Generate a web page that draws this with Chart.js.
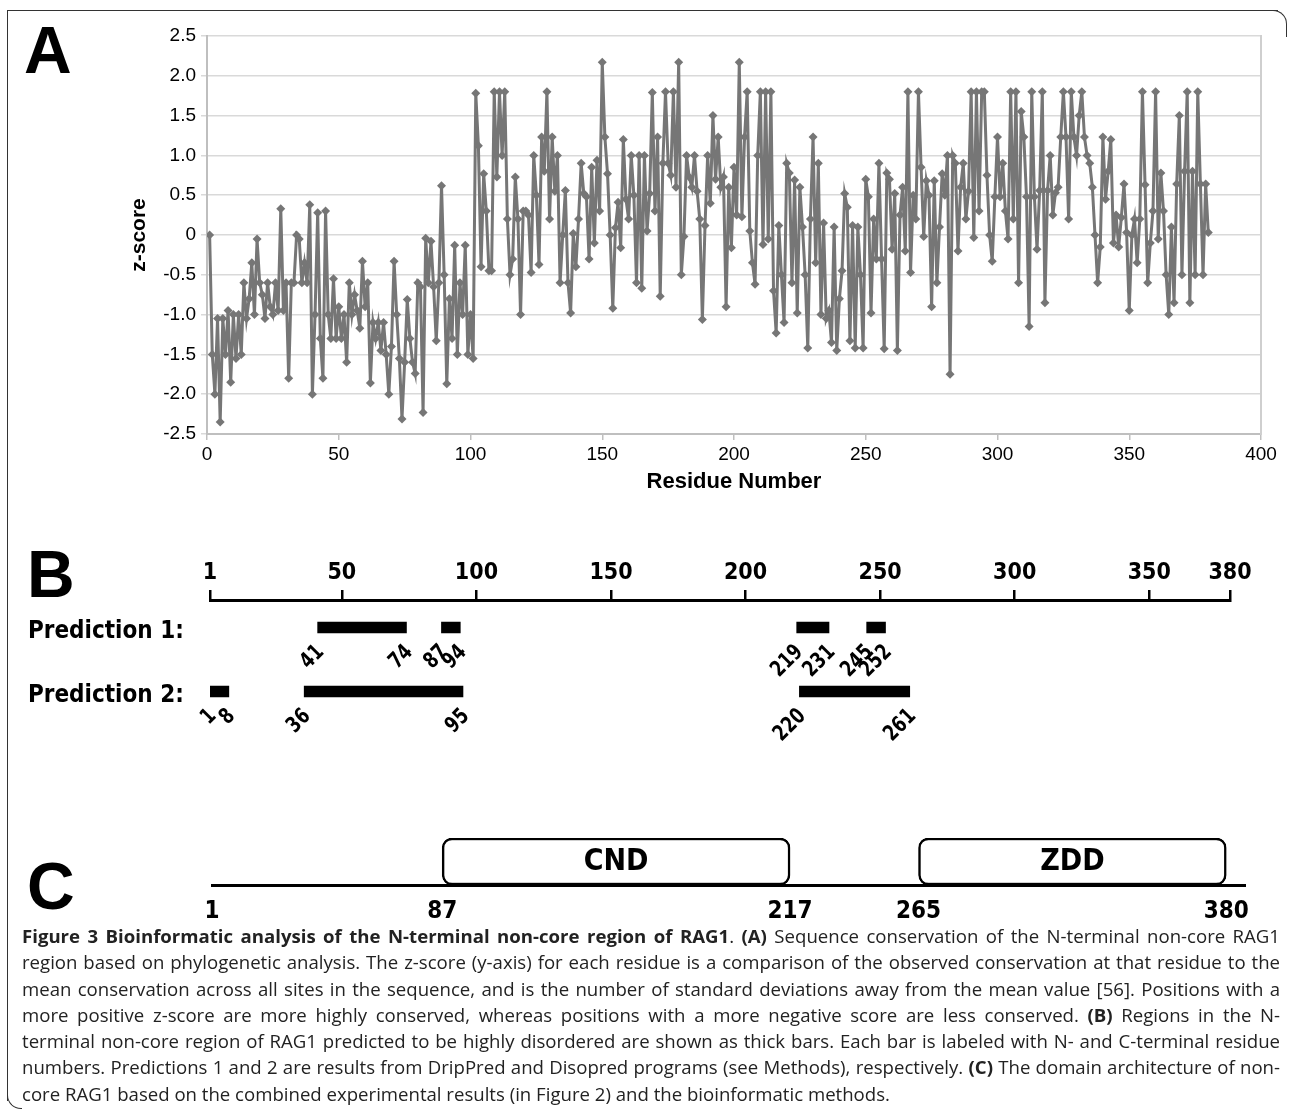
<!DOCTYPE html>
<html>
<head>
<meta charset="utf-8">
<script src="https://cdn.jsdelivr.net/npm/chart.js@4.4.1/dist/chart.umd.min.js"></script>
<style>
  body { margin: 0; background: #fff; width: 1293px; height: 1119px; overflow: hidden; position: relative; }
  canvas { position: absolute; left: 0; }
  .panel { position: absolute; font: bold 66px "Liberation Sans", Arial, sans-serif; color: #000; line-height: 1; }
  #frameMain { position: absolute; left: 7px; top: 10px; width: 1270px; height: 1090px; border-left: 1.5px solid #333; border-top: 1.5px solid #333; }
  #frameTR { position: absolute; left: 1272px; top: 10px; width: 14px; height: 26px; border-top: 1.5px solid #333; border-right: 1.5px solid #333; border-top-right-radius: 14px; }
  #frameBL { position: absolute; left: 7px; top: 1090px; width: 14px; height: 18px; border-left: 1.5px solid #333; border-bottom: 1.5px solid #333; border-bottom-left-radius: 14px; }
  #caption { position: absolute; left: 22px; top: 923px; width: 1258px; font: 18.6px "Open Sans", "Noto Sans", sans-serif; color: #222; }
  #caption div { line-height: 26.3px; height: 26.3px; white-space: nowrap; text-align: justify; text-align-last: justify; }
  #caption div.last { text-align-last: left; }
</style>
</head>
<body>
<div id="frameMain"></div>
<div id="frameTR"></div>
<div id="frameBL"></div>

<canvas id="chartA" width="1293" height="500" style="top:0"></canvas>
<canvas id="chartB" width="1293" height="240" style="top:530px"></canvas>
<canvas id="chartC" width="1293" height="110" style="top:820px"></canvas>

<div class="panel" style="left:24px; top:17px;">A</div>
<div class="panel" style="left:27px; top:541px;">B</div>
<div class="panel" style="left:27px; top:853px;">C</div>

<div id="caption">
  <div><b>Figure 3 Bioinformatic analysis of the N-terminal non-core region of RAG1</b>. <b>(A)</b> Sequence conservation of the N-terminal non-core RAG1</div>
  <div>region based on phylogenetic analysis. The z-score (y-axis) for each residue is a comparison of the observed conservation at that residue to the</div>
  <div>mean conservation across all sites in the sequence, and is the number of standard deviations away from the mean value [56]. Positions with a</div>
  <div>more positive z-score are more highly conserved, whereas positions with a more negative score are less conserved. <b>(B)</b> Regions in the N-</div>
  <div>terminal non-core region of RAG1 predicted to be highly disordered are shown as thick bars. Each bar is labeled with N- and C-terminal residue</div>
  <div>numbers. Predictions 1 and 2 are results from DripPred and Disopred programs (see Methods), respectively. <b>(C)</b> The domain architecture of non-</div>
  <div class="last">core RAG1 based on the combined experimental results (in Figure 2) and the bioinformatic methods.</div>
</div>

<script>
// z-score per residue (residue 1..380)
const zScores = [
  0, -1.5, -2.0, -1.05, -2.35, -1.05, -1.5, -0.95, -1.85, -1.0,
  -1.55, -1.0, -1.5, -0.6, -1.05, -0.8, -0.35, -1.0, -0.05, -0.6,
  -0.75, -1.05, -0.6, -0.9, -1.0, -0.6, -0.95, 0.33, -0.95, -0.6,
  -1.8, -0.6, -0.6, 0.0, -0.05, -0.6, -0.35, -0.6, 0.38, -2.0,
  -1.0, 0.28, -1.3, -1.8, 0.3, -1.0, -1.3, -0.55, -1.3, -0.9,
  -1.3, -1.0, -1.6, -0.6, -1.0, -0.75, -0.95, -1.17, -0.33, -0.9,
  -0.6, -1.86, -1.1, -1.3, -1.1, -1.45, -1.1, -1.5, -2.0, -1.4,
  -0.33, -1.0, -1.55, -2.31, -1.6, -0.81, -1.3, -1.6, -1.74, -0.6,
  -0.65, -2.23, -0.04, -0.6, -0.08, -0.65, -1.33, -0.6, 0.62, -0.5,
  -1.87, -0.8, -1.3, -0.13, -1.5, -0.6, -1.0, -0.13, -1.5, -1.0,
  -1.55, 1.78, 1.12, -0.4, 0.77, 0.3, -0.45, -0.45, 1.8, 0.73,
  1.8, 1.0, 1.8, 0.2, -0.5, -0.3, 0.73, 0.2, -1.0, 0.3,
  0.3, 0.25, -0.47, 1.0, 0.5, -0.37, 1.23, 0.8, 1.8, 0.2,
  1.23, 0.55, 1.0, -0.6, 0.0, 0.56, -0.6, -0.98, 0.02, -0.4,
  0.2, 0.9, 0.52, 0.48, -0.3, 0.85, -0.1, 0.94, 0.3, 2.17,
  1.23, 0.77, 0.0, -0.92, 0.09, 0.41, -0.16, 1.2, 0.45, 0.2,
  1.0, 0.5, -0.6, 1.0, -0.67, 1.0, 0.05, 0.52, 1.79, 0.3,
  1.23, -0.77, 0.9, 1.8, 0.9, 0.75, 1.8, 0.6, 2.17, -0.5,
  -0.02, 1.0, 0.73, 0.6, 1.0, 0.55, 0.2, -1.06, 0.12, 1.0,
  0.4, 1.5, 0.7, 1.23, 0.6, 0.73, -0.9, 0.6, -0.16, 0.85,
  0.25, 2.17, 0.23, 1.23, 1.8, 0.05, -0.35, -0.62, 1.0, 1.8,
  -0.12, 1.8, -0.05, 1.8, -0.7, -1.23, 0.12, -0.5, -1.1, 0.9,
  0.78, -0.6, 0.69, -0.98, 0.6, 0.1, -0.5, -1.42, 0.2, 1.23,
  -0.35, 0.9, -1.0, 0.15, -1.05, -0.95, -1.35, 0.1, -1.45, -0.8,
  -0.45, 0.52, 0.35, -1.33, 0.12, -1.42, 0.1, -0.5, -1.42, 0.7,
  0.48, -0.98, 0.2, -0.3, 0.9, -0.3, -1.43, 0.78, 0.7, -0.18,
  0.52, -1.45, 0.25, 0.6, -0.2, 1.8, -0.47, 0.5, 0.2, 1.8,
  0.85, -0.02, 0.68, 0.5, -0.9, 0.68, -0.6, 0.1, 0.77, 0.5,
  1.0, -1.75, 1.0, 0.9, -0.2, 0.6, 0.9, 0.2, 0.55, 1.8,
  -0.03, 1.8, 0.3, 1.8, 1.8, 0.75, 0.0, -0.33, 0.48, 1.23,
  0.48, 0.9, 0.3, -0.05, 1.8, 0.2, 1.8, -0.6, 1.55, 1.23,
  0.48, -1.15, 1.8, 0.48, -0.18, 0.56, 1.8, -0.85, 0.56, 1.0,
  0.25, 0.53, 0.6, 1.23, 1.8, 1.23, 0.2, 1.8, 1.23, 1.0,
  1.5, 1.8, 1.23, 1.0, 0.9, 0.6, 0.0, -0.6, -0.15, 1.23,
  0.45, 0.8, 1.2, -0.1, 0.25, -0.15, 0.22, 0.64, 0.03, -0.95,
  0.0, 0.2, -0.35, 0.2, 1.8, 0.63, -0.6, -0.1, 0.3, 1.8,
  -0.05, 0.78, 0.3, -0.5, -1.0, 0.1, -0.85, 0.64, 1.5, -0.5,
  0.8, 1.8, -0.85, 0.8, -0.5, 1.8, 0.64, -0.5, 0.64, 0.03
];

// panel B: predicted disordered regions [start, end]
const prediction1 = [[41, 74], [87, 94], [219, 231], [245, 252]];
const prediction2 = [[1, 8], [36, 95], [220, 261]];
const predictionLabels = ['Prediction 1:', 'Prediction 2:'];
const sequenceTicks = [1, 50, 100, 150, 200, 250, 300, 350, 380];

// panel C: domains
const domainNames = ['CND', 'ZDD'];
const domainRanges = [[87, 217], [265, 380]];
const domainTicks = [1, 87, 217, 265, 380];

const narrow = '"Liberation Sans Narrow", "DejaVu Sans Condensed", "Liberation Sans", sans-serif';
const arial = '"Liberation Sans", Arial, sans-serif';
Chart.defaults.animation = false;
Chart.defaults.color = '#000';

// ---- Panel A ----
const zPoints = zScores.map((z, i) => ({ x: i + 1, y: z }));
new Chart(document.getElementById('chartA'), {
    type: 'line',
    data: {
        datasets: [{
            data: zPoints,
            borderColor: '#767676',
            borderWidth: 3,
            pointStyle: 'rectRot',
            pointRadius: 4.5,
            pointBackgroundColor: '#767676',
            pointBorderWidth: 0,
            tension: 0
        }]
    },
    options: {
        responsive: false,
        layout: { padding: { left: 120, right: 32, top: 36, bottom: 0 } },
        plugins: { legend: { display: false }, tooltip: { enabled: false } },
        scales: {
            x: {
                type: 'linear', min: 0, max: 400,
                ticks: { stepSize: 50, font: { family: arial, size: 19 }, padding: 3 },
                grid: { drawOnChartArea: false, tickLength: 6, color: '#bfbfbf', lineWidth: 1.5 },
                border: { color: '#bfbfbf', width: 2 },
                title: { display: true, text: 'Residue Number', font: { family: arial, size: 22, weight: 'bold' }, padding: { top: 0, bottom: 5 } },
                afterFit: s => { s.height = 66; }
            },
            y: {
                min: -2.5, max: 2.5,
                ticks: { stepSize: 0.5, font: { family: arial, size: 19 }, padding: 5,
                         callback: v => v === 0 ? '0' : v.toFixed(1) },
                grid: { color: '#d9d9d9', lineWidth: 1.5, tickLength: 6 },
                border: { color: '#bfbfbf', width: 2 },
                title: { display: true, text: 'z-score', font: { family: arial, size: 21, weight: 'bold' }, padding: { top: 7, bottom: 0 } },
                afterFit: s => { s.width = 87; }
            },
            y2: {
                position: 'right', min: -2.5, max: 2.5,
                ticks: { display: false },
                grid: { drawOnChartArea: false, drawTicks: false },
                border: { color: '#cfcfcf', width: 2 },
                afterFit: s => { s.width = 0; }
            }
        }
    }
});

// ---- Panel B ----
// residue numbers written at both ends of each bar, rotated 45 degrees
const barLabelPlugin = {
    id: 'barEndLabels',
    afterDatasetsDraw(chart) {
        const ctx = chart.ctx;
        const xs = chart.scales.x;
        ctx.save();
        ctx.fillStyle = '#000';
        ctx.font = 'bold 22px ' + narrow;
        ctx.textAlign = 'right';
        ctx.textBaseline = 'middle';
        chart.data.datasets.forEach((ds, di) => {
            chart.getDatasetMeta(di).data.forEach((bar, i) => {
                const bottom = bar.y + bar.height / 2;
                ds.data[i].x.forEach(v => {
                    ctx.save();
                    ctx.translate(xs.getPixelForValue(v) + 3, bottom + 16);
                    ctx.rotate(-Math.PI / 4);
                    ctx.scale(0.85, 1);
                    ctx.fillText(String(v), 0, 0);
                    ctx.restore();
                });
            });
        });
        ctx.restore();
    }
};

new Chart(document.getElementById('chartB'), {
    type: 'bar',
    data: {
        datasets: [prediction1, prediction2].map((ranges, row) => ({
            data: ranges.map(r => ({ x: r, y: row + 1 })),
            backgroundColor: '#000',
            barThickness: 11,
            grouped: false
        }))
    },
    options: {
        responsive: false,
        indexAxis: 'y',
        layout: { padding: { left: 28, right: 63, top: 0, bottom: 0 } },
        plugins: { legend: { display: false }, tooltip: { enabled: false } },
        scales: {
            x: {
                type: 'linear', position: 'top', min: 1, max: 380,
                afterBuildTicks: s => { s.ticks = sequenceTicks.map(v => ({ value: v })); },
                ticks: { font: { family: narrow, size: 23, weight: 'bold' }, padding: 3 },
                grid: { drawOnChartArea: false, tickLength: 10, color: '#000', lineWidth: 2.5 },
                border: { color: '#000', width: 3 },
                afterFit: s => { s.height = 70; }
            },
            y: {
                type: 'linear', reverse: true, offset: false, min: 0.571, max: 3.0,
                afterBuildTicks: s => { s.ticks = [{ value: 1 }, { value: 2 }]; },
                ticks: { crossAlign: 'far', padding: 0, labelOffset: 4, font: { family: narrow, size: 24, weight: 'bold' },
                         callback: v => predictionLabels[v - 1] },
                grid: { display: false },
                border: { display: false },
                afterFit: s => { s.width = 182; }
            }
        }
    },
    plugins: [barLabelPlugin]
});

// ---- Panel C ----
const domainLabelPlugin = {
    id: 'domainLabels',
    afterDatasetsDraw(chart) {
        const ctx = chart.ctx;
        ctx.save();
        ctx.fillStyle = '#000';
        ctx.font = 'bold 30px ' + narrow;
        ctx.textAlign = 'center';
        ctx.textBaseline = 'middle';
        chart.getDatasetMeta(0).data.forEach((bar, i) => {
            ctx.fillText(domainNames[i], (bar.x + bar.base) / 2, bar.y + 1);
        });
        ctx.restore();
    }
};

new Chart(document.getElementById('chartC'), {
    type: 'bar',
    data: {
        datasets: [{
            data: domainRanges.map(r => ({ x: r, y: 0.5 })),
            backgroundColor: '#fff',
            borderColor: '#000',
            borderWidth: 2.5,
            borderRadius: 10,
            borderSkipped: false,
            barThickness: 47
        }]
    },
    options: {
        responsive: false,
        indexAxis: 'y',
        layout: { padding: { left: 212, right: 48, top: 18, bottom: 0 } },
        plugins: { legend: { display: false }, tooltip: { enabled: false } },
        scales: {
            x: {
                type: 'linear', min: 1, max: 387,
                afterBuildTicks: s => { s.ticks = domainTicks.map(v => ({ value: v })); },
                ticks: { font: { family: narrow, size: 24, weight: 'bold' }, padding: 12 },
                grid: { drawOnChartArea: false, drawTicks: false },
                border: { color: '#000', width: 3 },
                afterFit: s => { s.height = 45; }
            },
            y: { type: 'linear', offset: false, min: 0, max: 1, display: false }
        }
    },
    plugins: [domainLabelPlugin]
});
</script>
</body>
</html>
